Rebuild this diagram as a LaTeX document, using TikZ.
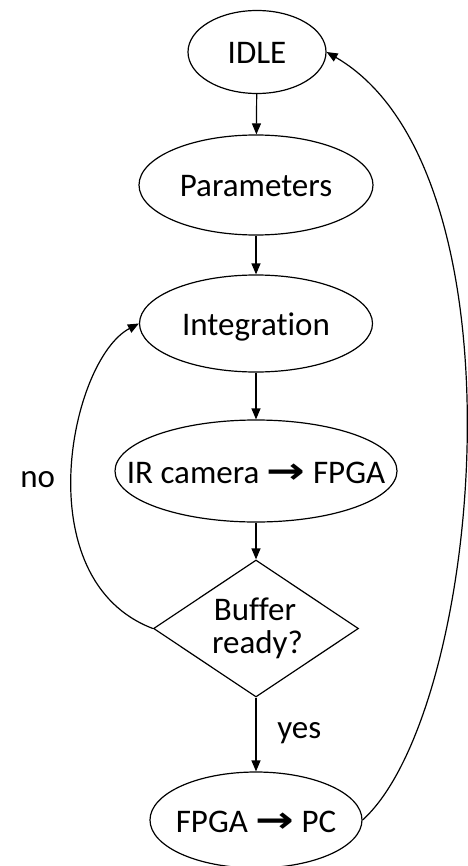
\documentclass[tikz,border=0pt]{standalone}
\usepackage{fontspec}
\setmainfont{Carlito}[Ligatures=NoCommon]
\newfontfamily\arrowfont{DejaVu Sans}
\usetikzlibrary{shapes.geometric,arrows.meta}

% bold right arrow used inside the state labels
\newcommand\flowarrow{\scalebox{1.4}[1.1]{\arrowfont\bfseries →}}

\begin{document}
\begin{tikzpicture}[
    x=0.5pt, y=-0.5pt,
    line width=0.6pt,
    every node/.style={font=\fontsize{16.5}{19}\selectfont},
    state/.style={ellipse, draw, inner sep=0pt, text height=12pt, text depth=0pt},
    decision/.style={diamond, draw, inner sep=0pt},
    flow/.style={-{Triangle[length=5.5pt,width=4.5pt]}},
  ]
  \useasboundingbox (0,0) rectangle (467,866);

  % states
  \node[state, minimum width=69pt,  minimum height=41.5pt] (idle)  at (257,52)  {\makebox[0pt]{IDLE}};
  \node[state, minimum width=117pt, minimum height=50pt]   (param) at (256,185) {\makebox[0pt]{Parameters}};
  \node[state, minimum width=116.5pt, minimum height=48.5pt] (integ) at (256,323.5) {\makebox[0pt]{Integration}};
  \node[state, minimum width=141pt, minimum height=51pt]   (ircam) at (256,471) {\makebox[0pt]{IR camera \flowarrow{} FPGA}};
  \node[state, minimum width=106pt, minimum height=48pt]   (pc)    at (256,820) {\makebox[0pt]{FPGA \flowarrow{} PC}};

  % decision
  \node[decision, minimum width=102.5pt, minimum height=68.5pt] (buf) at (256,628.5) {};
  \node[anchor=base] (buftop) at (255,620)   {Buffer};
  \node[anchor=base] (bufbot) at (257.5,653) {ready?};

  % straight transitions
  \draw[flow] (idle)  -- (param);
  \draw[flow] (param) -- (integ);
  \draw[flow] (integ) -- (ircam);
  \draw[flow] (ircam) -- (buf);
  \draw[flow] (buf)   -- (pc);

  % branch labels
  \node[anchor=base west] (yes) at (270,738) {yes};
  \node[anchor=base west] (no)  at (13,487)  {no};

  % loop back to integration
  \draw[flow] (buf.west) .. controls (25,580) and (70,360) .. (integ.west);

  % return to idle
  \draw[flow] (pc.east) .. controls (482,712) and (531,171) .. (idle.east);
\end{tikzpicture}
\end{document}
